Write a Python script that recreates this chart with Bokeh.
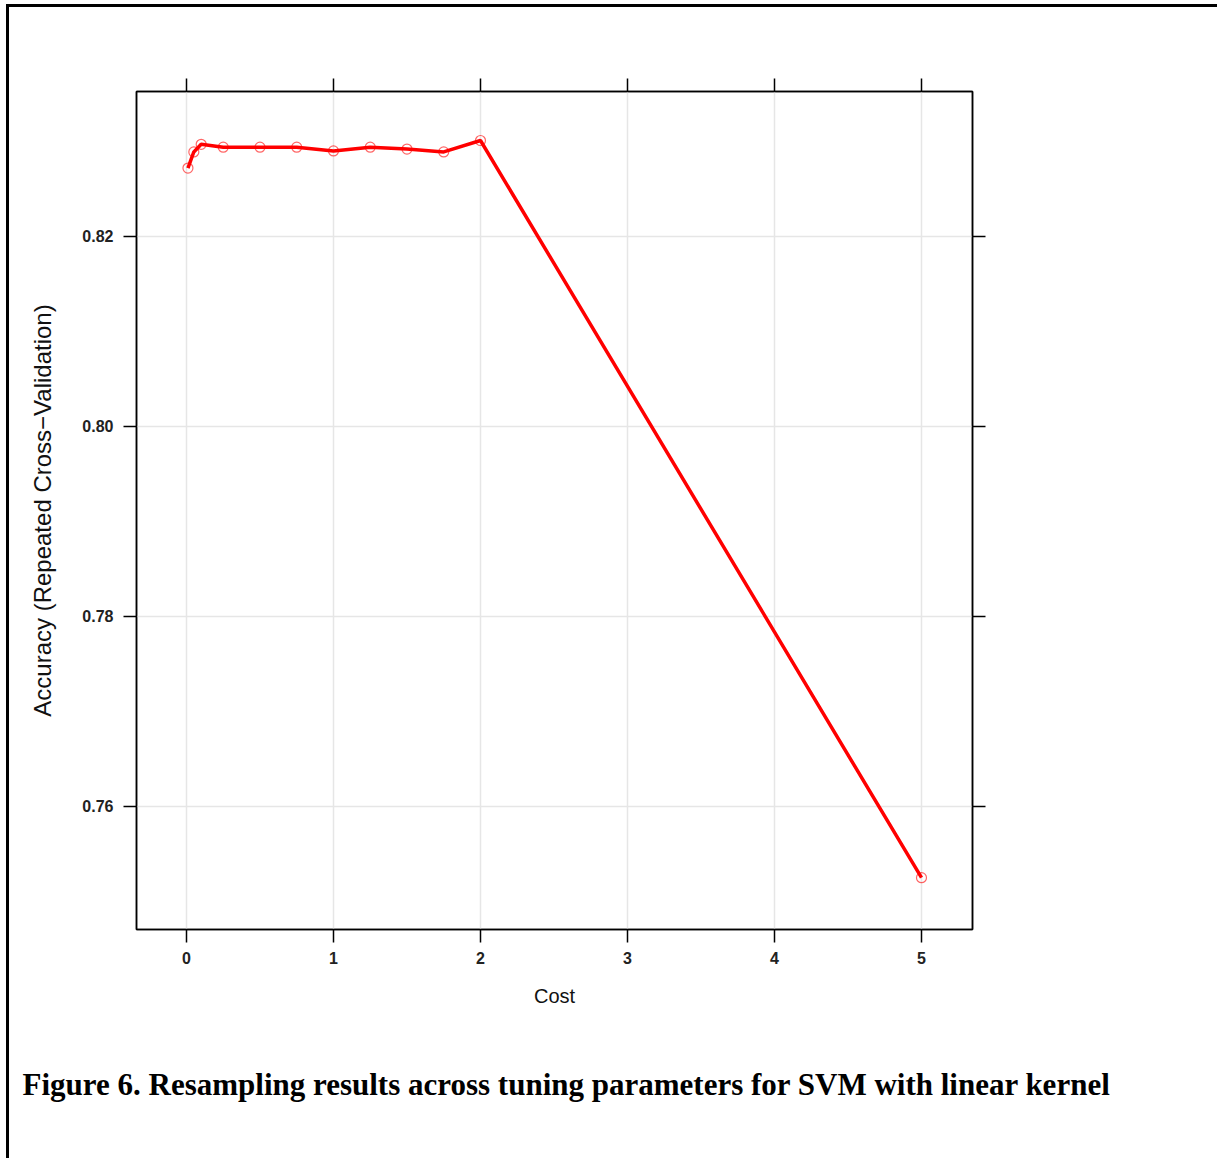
from bokeh.plotting import figure
from bokeh.models import (Range1d, LinearAxis, FixedTicker, Title, NumeralTickFormatter)
from bokeh.embed import file_html
from bokeh.resources import INLINE

cost = [0.01, 0.05, 0.1, 0.25, 0.5, 0.75, 1.0, 1.25, 1.5, 1.75, 2.0, 5.0]
accuracy = [0.8272, 0.8289, 0.8297, 0.8294, 0.8294, 0.8294, 0.8290, 0.8294, 0.8292, 0.8289, 0.8301, 0.7525]
x_ticks = [0, 1, 2, 3, 4, 5]
y_ticks = [0.76, 0.78, 0.80, 0.82]
x_label = "Cost"
y_label = "Accuracy (Repeated Cross\u2212Validation)"
caption = "Figure 6. Resampling results across tuning parameters for SVM with linear kernel"

W, H = 1217, 1158
p = figure(width=W, height=H, output_backend="svg", toolbar_location=None,
           x_range=Range1d(-0.34, 5.347), y_range=Range1d(0.74705, 0.83526),
           x_axis_location=None, y_axis_location=None,
           min_border_left=136, min_border_right=W - 972,
           min_border_top=91, min_border_bottom=H - 929)
p.background_fill_color = "white"
p.border_fill_color = None
p.outline_line_color = "black"
p.outline_line_width = 1.5
p.styles = {
    "background-color": "white",
    "box-shadow": ("inset 0 4px 0 0 white, inset 6px 0 0 0 white, "
                   "inset 0 7px 0 0 black, inset 9px 0 0 0 black"),
}

def style_axis(ax, labels=True):
    ax.major_tick_out = 13
    ax.major_tick_in = 0
    ax.minor_tick_line_color = None
    ax.axis_line_color = "black"
    ax.axis_line_width = 1.5
    ax.major_tick_line_color = "black"
    ax.major_tick_line_width = 1.5
    ax.major_label_text_font = "Liberation Sans"
    ax.major_label_text_font_style = "bold"
    ax.major_label_text_color = "#222222"
    ax.major_label_text_font_size = "16px"
    ax.axis_label_text_font = "Liberation Sans"
    ax.axis_label_text_font_style = "normal"
    ax.axis_label_text_color = "#111111"
    ax.axis_label_text_font_size = "20px"

xb = LinearAxis(ticker=FixedTicker(ticks=x_ticks), axis_label=x_label)
style_axis(xb)
xb.major_label_standoff = 9
xb.axis_label_standoff = 18
p.add_layout(xb, "below")
xa = LinearAxis(ticker=FixedTicker(ticks=x_ticks),
                major_label_overrides={t: "" for t in x_ticks})
style_axis(xa, labels=False)
p.add_layout(xa, "above")
yl = LinearAxis(ticker=FixedTicker(ticks=y_ticks), axis_label=y_label,
                formatter=NumeralTickFormatter(format="0.00"))
style_axis(yl)
yl.axis_label_text_font_size = "24px"
yl.major_label_standoff = 10
yl.axis_label_standoff = 23
p.add_layout(yl, "left")
yr = LinearAxis(ticker=FixedTicker(ticks=y_ticks),
                major_label_overrides={t: "" for t in y_ticks})
style_axis(yr, labels=False)
p.add_layout(yr, "right")

p.xgrid.ticker = FixedTicker(ticks=x_ticks)
p.ygrid.ticker = FixedTicker(ticks=y_ticks)
p.grid.grid_line_color = "#e6e6e6"
p.grid.grid_line_width = 1.5

p.line(cost, accuracy, line_color="#ff0000", line_width=3.5)
p.scatter(cost, accuracy, size=10, marker="circle", fill_color=None,
          line_color="#ff0000", line_alpha=0.6, line_width=1.2)

p.add_layout(Title(text=caption, align="left", offset=-114, standoff=111,
                   text_font="Liberation Serif", text_font_style="bold",
                   text_font_size="31px", text_color="black"), "below")

open("out.html", "w").write(file_html(p, INLINE))
